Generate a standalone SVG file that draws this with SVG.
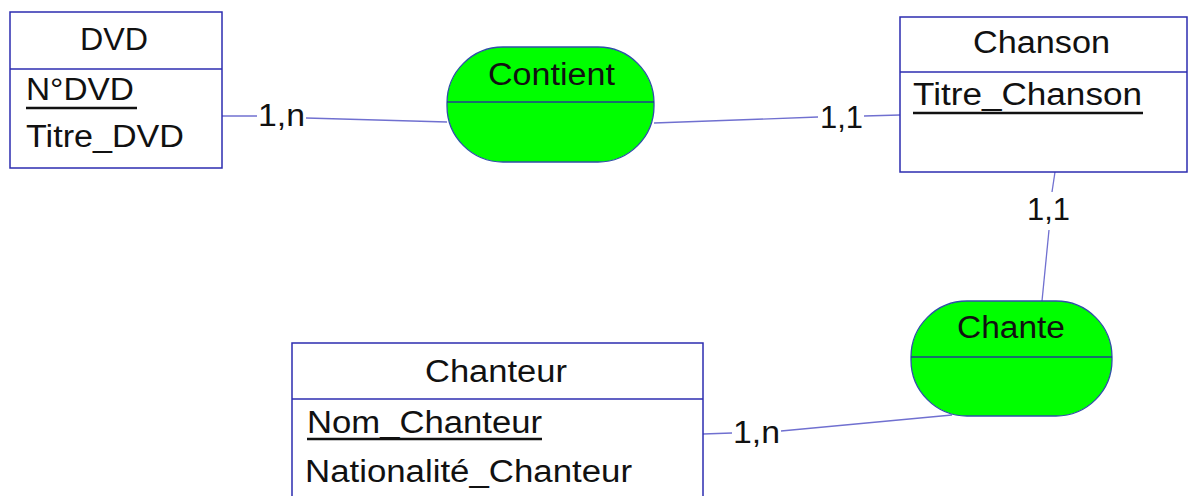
<svg xmlns="http://www.w3.org/2000/svg" width="1188" height="496" viewBox="0 0 1188 496">
<style>
.ent{fill:#fff;stroke:#2c2cb0;stroke-width:1.5}
.rel{fill:#00ff00;stroke:#2f4fa8;stroke-width:1.3}
.div{stroke:#2c2cb0;stroke-width:1.5}
.rdiv{stroke:#1f3f90;stroke-width:1.5}
.lnk{stroke:#7070d0;stroke-width:1.3;fill:none}
text{font-family:"Liberation Sans",Arial,sans-serif;font-size:31px;fill:#111}
.ul{stroke:#111;stroke-width:2.5}
</style>
<rect width="1188" height="496" fill="#fff"/>
<g id="connectors">
<polyline class="lnk" points="222,116 257,116"/>
<polyline class="lnk" points="306,118 447,122"/>
<polyline class="lnk" points="654,123 818,117"/>
<polyline class="lnk" points="864,116 900,115"/>
<polyline class="lnk" points="1055,172 1052,192"/>
<polyline class="lnk" points="1049,230 1042,301"/>
<polyline class="lnk" points="703,434 732,433"/>
<polyline class="lnk" points="781,431 952,415"/>
<text x="258" y="126" textLength="47" lengthAdjust="spacingAndGlyphs">1,n</text>
<text x="820" y="128" textLength="43" lengthAdjust="spacingAndGlyphs">1,1</text>
<text x="1027" y="220" textLength="43" lengthAdjust="spacingAndGlyphs">1,1</text>
<text x="733" y="443" textLength="47" lengthAdjust="spacingAndGlyphs">1,n</text>
</g>
<g id="dvd">
<rect class="ent" x="10" y="12" width="212" height="156"/>
<line class="div" x1="10" y1="69" x2="222" y2="69"/>
<text x="80" y="50" textLength="68" lengthAdjust="spacingAndGlyphs">DVD</text>
<text x="26" y="100" textLength="108" lengthAdjust="spacingAndGlyphs">N°DVD</text>
<line class="ul" x1="26" y1="108" x2="137" y2="108"/>
<text x="26" y="147" textLength="158" lengthAdjust="spacingAndGlyphs">Titre_DVD</text>
</g>
<g id="contient">
<rect class="rel" x="447" y="47" width="207" height="115" rx="56" ry="56"/>
<line class="rdiv" x1="447" y1="102" x2="654" y2="102"/>
<text x="488" y="85" textLength="127" lengthAdjust="spacingAndGlyphs">Contient</text>
</g>
<g id="chanson">
<rect class="ent" x="900" y="17" width="287" height="155"/>
<line class="div" x1="900" y1="72" x2="1187" y2="72"/>
<text x="973" y="53" textLength="137" lengthAdjust="spacingAndGlyphs">Chanson</text>
<text x="913" y="105" textLength="229" lengthAdjust="spacingAndGlyphs">Titre_Chanson</text>
<line class="ul" x1="913" y1="113" x2="1143" y2="113"/>
</g>
<g id="chante">
<rect class="rel" x="911" y="301" width="201" height="115" rx="56" ry="56"/>
<line class="rdiv" x1="911" y1="357" x2="1112" y2="357"/>
<text x="957" y="338" textLength="108" lengthAdjust="spacingAndGlyphs">Chante</text>
</g>
<g id="chanteur">
<rect class="ent" x="292" y="343" width="411" height="170"/>
<line class="div" x1="292" y1="399" x2="703" y2="399"/>
<text x="425" y="382" textLength="142" lengthAdjust="spacingAndGlyphs">Chanteur</text>
<text x="307" y="433" textLength="235" lengthAdjust="spacingAndGlyphs">Nom_Chanteur</text>
<line class="ul" x1="307" y1="439" x2="542" y2="439"/>
<text x="305" y="482" textLength="327" lengthAdjust="spacingAndGlyphs">Nationalité_Chanteur</text>
</g>
</svg>
